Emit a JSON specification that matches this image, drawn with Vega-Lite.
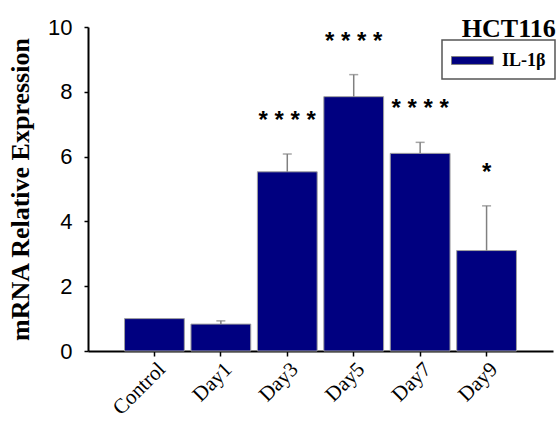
{
  "$schema": "https://vega.github.io/schema/vega-lite/v6.json",
  "width": 465,
  "height": 324,
  "autosize": "none",
  "padding": {"left": 88, "top": 27, "right": 5, "bottom": 75},
  "background": "white",
  "title": {"text": "HCT116", "anchor": "end", "font": "Liberation Serif", "fontSize": 26, "fontWeight": "bold", "color": "black", "offset": -10, "dy": 37, "baseline": "alphabetic"},
  "data": {"values": [
    {"group": "Control", "value": 1.0, "hi": null, "sig": "", "gene": "IL-1β"},
    {"group": "Day1", "value": 0.83, "hi": 0.93, "sig": "", "gene": "IL-1β"},
    {"group": "Day3", "value": 5.53, "hi": 6.08, "sig": "* * * *", "gene": "IL-1β"},
    {"group": "Day5", "value": 7.85, "hi": 8.53, "sig": "* * * *", "gene": "IL-1β"},
    {"group": "Day7", "value": 6.10, "hi": 6.44, "sig": "* * * *", "gene": "IL-1β"},
    {"group": "Day9", "value": 3.10, "hi": 4.48, "sig": "*", "gene": "IL-1β"}
  ]},
  "encoding": {
    "x": {"field": "group", "type": "nominal", "sort": null,
      "scale": {"paddingInner": 0.1, "paddingOuter": 0.55},
      "axis": {"title": null, "labelAngle": -45, "labelFont": "Liberation Serif", "labelFontSize": 21, "labelColor": "black", "domainWidth": 2, "domainColor": "black", "tickSize": 5, "tickColor": "black", "tickWidth": 1.5, "labelPadding": 2}}
  },
  "layer": [
    {
      "mark": {"type": "bar", "stroke": "#a0a0a0", "strokeWidth": 1},
      "encoding": {
        "y": {"field": "value", "type": "quantitative", "scale": {"domain": [0, 10]},
          "axis": {"values": [0, 2, 4, 6, 8, 10], "grid": false, "title": "mRNA Relative Expression", "titleFont": "Liberation Serif", "titleFontSize": 26, "titleFontWeight": "bold", "titleColor": "black", "titlePadding": 14, "labelFont": "Liberation Sans", "labelFontSize": 22, "labelColor": "black", "labelPadding": 12, "domainWidth": 2, "domainColor": "black", "tickSize": 4, "tickColor": "black", "tickWidth": 1.5}},
        "color": {"field": "gene", "type": "nominal", "scale": {"range": ["#000080"]},
          "legend": {"orient": "none", "legendX": 354, "legendY": 13, "title": null, "strokeColor": "#555555", "padding": 9, "symbolType": "M-1,-0.36H2.8V0.36H-1Z", "symbolSize": 484, "symbolStrokeColor": "#808080", "symbolStrokeWidth": 1, "symbolFillColor": "#000080", "labelOffset": 28, "labelFont": "Liberation Serif", "labelFontSize": 18, "labelFontWeight": "bold", "labelColor": "black"}}
      }
    },
    {
      "transform": [{"filter": "datum.hi != null"}],
      "mark": {"type": "rule", "color": "#808080", "strokeWidth": 1.5},
      "encoding": {"y": {"field": "value", "type": "quantitative"}, "y2": {"field": "hi"}}
    },
    {
      "transform": [{"filter": "datum.hi != null"}],
      "mark": {"type": "tick", "color": "#808080", "thickness": 1.5, "size": 9},
      "encoding": {"y": {"field": "hi", "type": "quantitative"}}
    },
    {
      "transform": [{"filter": "datum.hi != null"}],
      "mark": {"type": "text", "font": "Liberation Sans", "fontSize": 24, "fontWeight": "bold", "dy": -33, "baseline": "middle", "color": "black"},
      "encoding": {"y": {"field": "hi", "type": "quantitative"}, "text": {"field": "sig"}}
    }
  ],
  "config": {"view": {"stroke": null}, "legend": {"strokeWidth": 1.5}}
}
